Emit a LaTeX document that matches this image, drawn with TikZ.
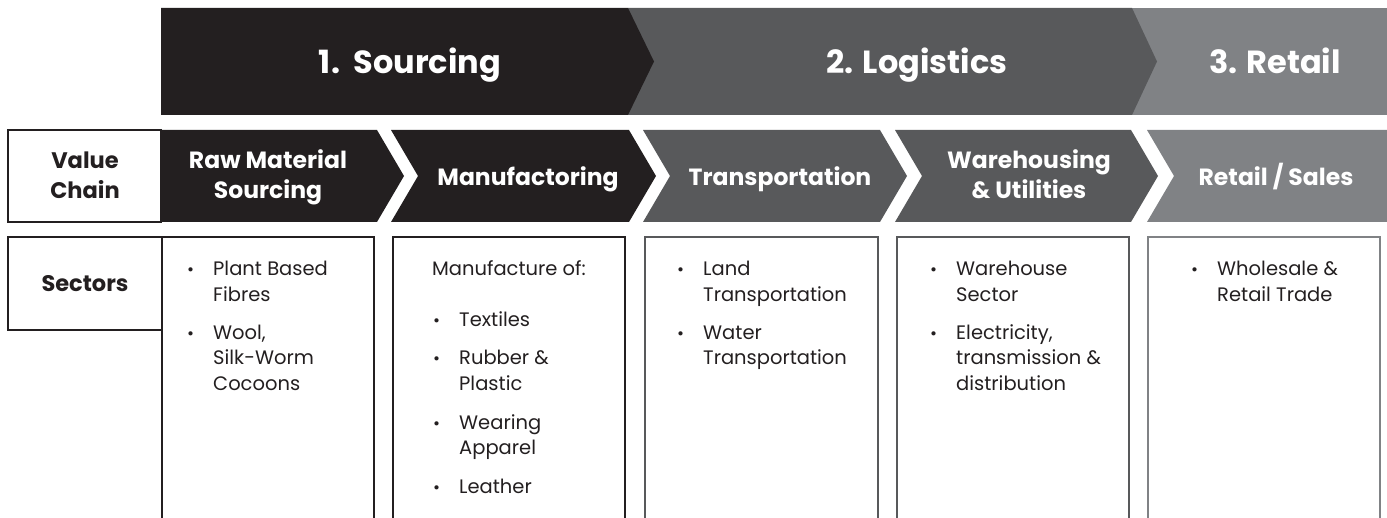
\documentclass[tikz,border=0pt]{standalone}
\usepackage{fontspec}
\setmainfont{Poppins}
\usepackage{xcolor}
\usepackage{tikz}
\usetikzlibrary{positioning}

\definecolor{phaseA}{HTML}{231F20}
\definecolor{phaseB}{HTML}{58595B}
\definecolor{phaseC}{HTML}{808285}

\tikzset{
  phase/.style={anchor=base, text=white, font=\bfseries\fontsize{32}{32}\selectfont},
  stage/.style={text=white, align=center, font=\bfseries\fontsize{23.5}{30}\selectfont},
  rowhead/.style={text=phaseA, align=center, font=\bfseries\fontsize{22.5}{30}\selectfont},
  sector/.style={anchor=base west, inner sep=0pt, text=phaseA, font=\fontsize{19.5}{25.5}\selectfont},
  boxline/.style={line width=2pt},
}
\newcommand{\bul}{\makebox[27pt][l]{\hspace{1pt}\fontsize{17}{17}\selectfont\textbullet}}

\begin{document}
\begin{tikzpicture}[x=1pt,y=-1pt]
  \useasboundingbox (0,0) rectangle (1387,518);

  % phases
  \fill[phaseC] (1132,8) -- (1387,8) -- (1387,115) -- (1132,115) -- cycle;
  \fill[phaseB] (628,8) -- (1132,8) -- (1157,61.5) -- (1132,115) -- (628,115) -- cycle;
  \fill[phaseA] (161,8) -- (628,8) -- (654,61.5) -- (628,115) -- (161,115) -- cycle;
  \node[phase] (sourcing) at (410,74) {1.\ \ Sourcing};
  \node[phase] (logistics) at (917,74) {2. Logistics};
  \node[phase] (retail) at (1275,74) {3. Retail};

  % value chain
  \draw[boxline, phaseA] (8,130) rectangle (161,222);
  \node[rowhead] (valuechain) at (85,175) {Value\\Chain};
  \fill[phaseA] (161,130) -- (377,130) -- (404,176) -- (377,222) -- (161,222) -- cycle;
  \fill[phaseA] (391,130) -- (629,130) -- (656,176) -- (629,222) -- (391,222) -- (418,176) -- cycle;
  \fill[phaseB] (643,130) -- (880,130) -- (907,176) -- (880,222) -- (643,222) -- (670,176) -- cycle;
  \fill[phaseB] (895,130) -- (1131,130) -- (1158,176) -- (1131,222) -- (895,222) -- (922,176) -- cycle;
  \fill[phaseC] (1147,130) -- (1387,130) -- (1387,222) -- (1147,222) -- (1174,176) -- cycle;
  \node[stage] (rawmat) at (268,177) {Raw Material\\Sourcing};
  \node[stage] (manuf) at (528,179) {Manufactoring};
  \node[stage] (transp) at (780,179) {Transportation};
  \node[stage] (wareh) at (1029,174.5) {Warehousing\\\& Utilities};
  \node[stage] (sales) at (1276,177) {Retail / Sales};

  % sectors
  \draw[boxline, phaseA] (8,237) rectangle (162,330);
  \node[rowhead] (sectors) at (85,284) {Sectors};
  \draw[boxline, phaseA] (162,520) -- (162,237) -- (374,237) -- (374,520);
  \draw[boxline, phaseA] (393,520) -- (393,237) -- (625,237) -- (625,520);
  \draw[boxline, phaseB] (645,520) -- (645,237) -- (878,237) -- (878,520);
  \draw[boxline, phaseB] (897,520) -- (897,237) -- (1129,237) -- (1129,520);
  \draw[boxline, phaseC] (1148,520) -- (1148,237) -- (1380,237) -- (1380,520);

  \node[sector] (rawlist) at (186,276) {\begin{tabular}[t]{@{}l@{}l@{}}
    \bul & Plant Based\\ & Fibres\\[12.5pt]
    \bul & Wool,\\ & Silk-Worm\\ & Cocoons
  \end{tabular}};
  \node[sector] (manuflist) at (432,276) {\begin{tabular}[t]{@{}l@{}l@{}}
    \multicolumn{2}{@{}l@{}}{Manufacture of:}\\[25.5pt]
    \bul & Textiles\\[12.5pt]
    \bul & Rubber \&\\ & Plastic\\[13.5pt]
    \bul & Wearing\\ & Apparel\\[13.5pt]
    \bul & Leather
  \end{tabular}};
  \node[sector] (transplist) at (676,276) {\begin{tabular}[t]{@{}l@{}l@{}}
    \bul & Land\\ & Transportation\\[12.5pt]
    \bul & Water\\ & Transportation
  \end{tabular}};
  \node[sector] (warehlist) at (929,276) {\begin{tabular}[t]{@{}l@{}l@{}}
    \bul & Warehouse\\ & Sector\\[12.5pt]
    \bul & Electricity,\\ & transmission \&\\ & distribution
  \end{tabular}};
  \node[sector] (saleslist) at (1190,276) {\begin{tabular}[t]{@{}l@{}l@{}}
    \bul & Wholesale \&\\ & Retail Trade
  \end{tabular}};
\end{tikzpicture}
\end{document}
